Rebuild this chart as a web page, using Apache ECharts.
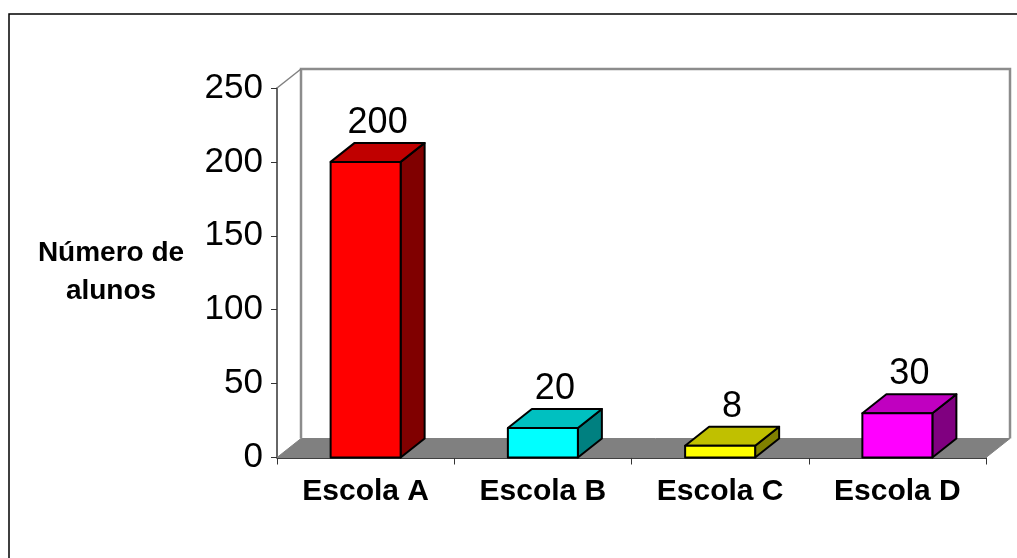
<!DOCTYPE html>
<html>
<head>
<meta charset="utf-8">
<script src="https://cdn.jsdelivr.net/npm/echarts@6/dist/echarts.min.js"></script>
<style>
  html, body { margin: 0; padding: 0; background: #fff; }
  #chart { width: 1017px; height: 558px; }
</style>
</head>
<body>
<div id="chart"></div>
<script>
// dados do gráfico
var escolas = ['Escola A', 'Escola B', 'Escola C', 'Escola D'];
var alunos = [200, 20, 8, 30];
var yTicks = [0, 50, 100, 150, 200, 250];

// cores das faces (frente, topo, lateral)
var cores = [
  ['#ff0000', '#c00000', '#800000'],
  ['#00ffff', '#00c0c0', '#008080'],
  ['#ffff00', '#c0c000', '#808000'],
  ['#ff00ff', '#c000c0', '#800080']
];

var FONT = 'Liberation Sans, Arial, sans-serif';
var DX = 24, DY = -19; // profundidade 3D

var myChart = echarts.init(document.getElementById('chart'));

// parede do fundo e chão
function renderFundo(params, api) {
  var cs = params.coordSys;
  var x = cs.x, y = cs.y, w = cs.width, h = cs.height;
  var yb = y + h;
  return {
    type: 'group',
    children: [
      {
        type: 'polygon',
        shape: { points: [[x, yb], [x + w, yb], [x + w + DX, yb + DY], [x + DX, yb + DY]] },
        style: { fill: '#808080', stroke: '#808080', lineWidth: 1 }
      },
      {
        type: 'polyline',
        shape: { points: [[x + DX, yb + DY], [x + DX, y + DY], [x + w + DX, y + DY], [x + w + DX, yb + DY]] },
        style: { fill: null, stroke: '#8c8c8c', lineWidth: 2.5 }
      },
      {
        type: 'line',
        shape: { x1: x, y1: y, x2: x + DX, y2: y + DY },
        style: { stroke: '#808080', lineWidth: 1.5 }
      }
    ]
  };
}

// barras 3D
function renderBarra(params, api) {
  var idx = api.value(0);
  var v = api.value(1);
  var top = api.coord([idx, v]);
  var base = api.coord([idx, 0]);
  var bw = api.size([1, 0])[0] * 0.395;
  var x0 = top[0] - bw / 2, x1 = top[0] + bw / 2;
  var yt = top[1], yb = base[1];
  var c = cores[idx];
  var borda = { stroke: '#000', lineWidth: 2, lineJoin: 'round' };
  return {
    type: 'group',
    children: [
      {
        type: 'polygon',
        shape: { points: [[x1, yb], [x1 + DX, yb + DY], [x1 + DX, yt + DY], [x1, yt]] },
        style: Object.assign({ fill: c[2] }, borda)
      },
      {
        type: 'polygon',
        shape: { points: [[x0, yt], [x1, yt], [x1 + DX, yt + DY], [x0 + DX, yt + DY]] },
        style: Object.assign({ fill: c[1] }, borda)
      },
      {
        type: 'rect',
        shape: { x: x0, y: yt, width: bw, height: yb - yt },
        style: Object.assign({ fill: c[0] }, borda)
      },
      {
        type: 'text',
        style: {
          text: String(v),
          x: top[0] + DX / 2,
          y: yt + DY - 2,
          align: 'center',
          verticalAlign: 'bottom',
          font: '36px ' + FONT,
          fill: '#000'
        }
      }
    ]
  };
}

var option = {
  animation: false,
  backgroundColor: '#fff',
  graphic: [
    {
      type: 'rect',
      shape: { x: 9, y: 14, width: 1100, height: 600 },
      style: { fill: null, stroke: '#000', lineWidth: 1.5 },
      z: -10
    }
  ],
  grid: { left: 277, right: 31, top: 88, bottom: 100.5 },
  xAxis: {
    type: 'category',
    data: escolas,
    axisLine: { lineStyle: { color: '#000', width: 1.5 } },
    axisTick: { show: true, length: 7, interval: 0, lineStyle: { color: '#333' } },
    axisLabel: {
      interval: 0,
      margin: 19,
      fontSize: 30,
      fontWeight: 'bold',
      fontFamily: FONT,
      color: '#000'
    },
    splitLine: { show: false }
  },
  yAxis: {
    type: 'value',
    min: yTicks[0],
    max: yTicks[yTicks.length - 1],
    interval: 50,
    name: 'Número de\nalunos',
    nameLocation: 'middle',
    nameRotate: 0,
    nameGap: 166,
    nameTextStyle: {
      fontSize: 28,
      fontWeight: 'bold',
      fontFamily: FONT,
      color: '#000',
      align: 'center',
      verticalAlign: 'middle',
      lineHeight: 38,
      padding: [6, 0, 0, 0]
    },
    axisLine: { show: true, lineStyle: { color: '#333', width: 1.5 } },
    axisTick: { show: true, length: 6, lineStyle: { color: '#333' } },
    axisLabel: { fontSize: 35, fontFamily: FONT, color: '#000', margin: 14 },
    splitLine: { show: false }
  },
  series: [
    {
      type: 'custom',
      renderItem: renderFundo,
      data: [[0, 0]],
      clip: false,
      silent: true,
      z: 1
    },
    {
      type: 'custom',
      renderItem: renderBarra,
      data: alunos.map(function (v, i) { return [i, v]; }),
      clip: false,
      z: 2
    }
  ]
};

myChart.setOption(option);
</script>
</body>
</html>
